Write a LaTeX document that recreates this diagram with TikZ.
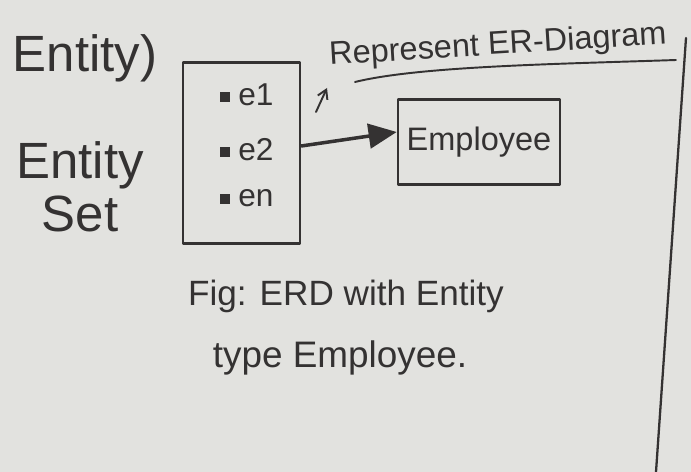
\documentclass[tikz,border=0pt]{standalone}
\usepackage{fontspec}
\setmainfont{Liberation Sans}
\usetikzlibrary{arrows.meta}
\definecolor{paper}{RGB}{226,226,223}
\definecolor{ink}{RGB}{52,50,50}
\begin{document}
\begin{tikzpicture}[x=0.02cm,y=-0.02cm,
  every node/.style={text=ink, inner sep=0pt},
  hand/.style={draw=ink, line width=1.5pt, line cap=round, line join=round},
  big/.style={font=\fontsize{29}{32}\selectfont},
  mid/.style={font=\fontsize{20}{24}\selectfont},
  item/.style={font=\fontsize{18}{20}\selectfont, anchor=west},
  dotsq/.style={fill=ink, minimum size=0.2cm, inner sep=0pt}]
\fill[paper] (0,0) rectangle (691,472);
\useasboundingbox (0,0) rectangle (691,472);
% left labels
\node[big] (lbl1) at (85,58) {Entity)};
\node[big, align=center] (lbl2) at (80,187) {Entity\\[-2pt]Set};
% entity set box
\node[hand, minimum width=2.34cm, minimum height=3.62cm] (set) at (241.5,153) {};
\node[dotsq] (s1) at (225,97) {};
\node[item] (e1) at (238,95) {e1};
\node[dotsq] (s2) at (225,152) {};
\node[item] (e2) at (238,150) {e2};
\node[dotsq] (s3) at (225,199) {};
\node[item] (en) at (238,198) {en};
% employee box
\node[hand, font=\fontsize{18.5}{22}\selectfont, minimum width=3.24cm, minimum height=1.7cm] (emp) at (479,142) {Employee};
\draw[hand, line width=2pt, -{Triangle[length=16pt,width=14pt]}] (set.east |- 0,146) -- (emp.west |- 0,132);
% small pointer arrow
\coordinate (p1) at (316,112);
\coordinate (p2) at (327,88);
\draw[hand, line width=1.1pt, -{Straight Barb[length=5pt,width=6pt]}] (p1) -- (p2);
% title
\node[font=\fontsize{18.5}{22}\selectfont, rotate=3.5] (title) at (498,46) {Represent ER-Diagram};
\coordinate (u1) at (355,82);
\coordinate (u2) at (676,60);
\draw[hand, line width=1.1pt] (u1) .. controls (420,66) and (560,64) .. (u2);
% right border line
\coordinate (r1) at (686,38);
\coordinate (r2) at (656,472);
\draw[hand, line width=1.3pt] (r1) -- (r2);
% caption
\node[mid] (cap1) at (346,296) {Fig: ERD with Entity};
\node[font=\fontsize{21}{24}\selectfont] (cap2) at (340,358) {type Employee.};
\end{tikzpicture}
\end{document}
